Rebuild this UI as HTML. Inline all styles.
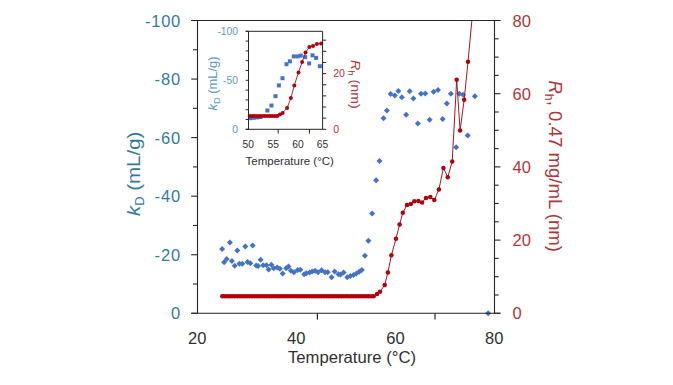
<!DOCTYPE html>
<html><head><meta charset="utf-8"><style>
html,body{margin:0;padding:0;background:#fff;width:673px;height:385px;overflow:hidden;position:relative;font-family:"Liberation Sans", sans-serif}
</style></head><body>
<svg width="673" height="385" viewBox="0 0 673 385" style="position:absolute;left:0;top:0">
<rect width="673" height="385" fill="#fff"/>
<defs><clipPath id="cm"><rect x="197.5" y="20.5" width="297.0" height="294.8"/></clipPath></defs>
<g fill="#4472C4"><path d="M222.1 246.0L225.1 249.0L222.1 252.0L219.1 249.0Z"/><path d="M229.9 239.4L232.9 242.4L229.9 245.4L226.9 242.4Z"/><path d="M237.3 247.6L240.3 250.6L237.3 253.6L234.3 250.6Z"/><path d="M245.3 243.4L248.3 246.4L245.3 249.4L242.3 246.4Z"/><path d="M252.7 242.4L255.7 245.4L252.7 248.4L249.7 245.4Z"/><path d="M224.1 259.3L227.1 262.3L224.1 265.3L221.1 262.3Z"/><path d="M226.7 256.0L229.7 259.0L226.7 262.0L223.7 259.0Z"/><path d="M231.9 258.0L234.9 261.0L231.9 264.0L228.9 261.0Z"/><path d="M234.7 262.8L237.7 265.8L234.7 268.8L231.7 265.8Z"/><path d="M239.4 260.8L242.4 263.8L239.4 266.8L236.4 263.8Z"/><path d="M242.3 260.8L245.3 263.8L242.3 266.8L239.3 263.8Z"/><path d="M247.5 259.0L250.5 262.0L247.5 265.0L244.5 262.0Z"/><path d="M250.3 260.3L253.3 263.3L250.3 266.3L247.3 263.3Z"/><path d="M256.2 262.6L259.2 265.6L256.2 268.6L253.2 265.6Z"/><path d="M258.1 263.0L261.1 266.0L258.1 269.0L255.1 266.0Z"/><path d="M260.6 256.7L263.6 259.7L260.6 262.7L257.6 259.7Z"/><path d="M263.2 262.2L266.2 265.2L263.2 268.2L260.2 265.2Z"/><path d="M266.5 262.2L269.5 265.2L266.5 268.2L263.5 265.2Z"/><path d="M268.6 266.5L271.6 269.5L268.6 272.5L265.6 269.5Z"/><path d="M271.4 261.8L274.4 264.8L271.4 267.8L268.4 264.8Z"/><path d="M273.7 265.3L276.7 268.3L273.7 271.3L270.7 268.3Z"/><path d="M277.2 264.5L280.2 267.5L277.2 270.5L274.2 267.5Z"/><path d="M279.9 265.7L282.9 268.7L279.9 271.7L276.9 268.7Z"/><path d="M282.7 270.4L285.7 273.4L282.7 276.4L279.7 273.4Z"/><path d="M286.2 265.3L289.2 268.3L286.2 271.3L283.2 268.3Z"/><path d="M288.5 263.4L291.5 266.4L288.5 269.4L285.5 266.4Z"/><path d="M290.9 267.7L293.9 270.7L290.9 273.7L287.9 270.7Z"/><path d="M294.0 269.2L297.0 272.2L294.0 275.2L291.0 272.2Z"/><path d="M297.7 267.1L300.7 270.1L297.7 273.1L294.7 270.1Z"/><path d="M300.3 266.8L303.3 269.8L300.3 272.8L297.3 269.8Z"/><path d="M304.2 271.2L307.2 274.2L304.2 277.2L301.2 274.2Z"/><path d="M306.3 270.3L309.3 273.3L306.3 276.3L303.3 273.3Z"/><path d="M309.5 269.5L312.5 272.5L309.5 275.5L306.5 272.5Z"/><path d="M312.1 268.6L315.1 271.6L312.1 274.6L309.1 271.6Z"/><path d="M315.1 267.7L318.1 270.7L315.1 273.7L312.1 270.7Z"/><path d="M318.0 269.3L321.0 272.3L318.0 275.3L315.0 272.3Z"/><path d="M321.6 267.3L324.6 270.3L321.6 273.3L318.6 270.3Z"/><path d="M325.1 269.3L328.1 272.3L325.1 275.3L322.1 272.3Z"/><path d="M327.7 269.3L330.7 272.3L327.7 275.3L324.7 272.3Z"/><path d="M331.6 274.2L334.6 277.2L331.6 280.2L328.6 277.2Z"/><path d="M334.6 268.6L337.6 271.6L334.6 274.6L331.6 271.6Z"/><path d="M338.5 271.2L341.5 274.2L338.5 277.2L335.5 274.2Z"/><path d="M340.5 271.4L343.5 274.4L340.5 277.4L337.5 274.4Z"/><path d="M343.6 269.6L346.6 272.6L343.6 275.6L340.6 272.6Z"/><path d="M347.3 274.2L350.3 277.2L347.3 280.2L344.3 277.2Z"/><path d="M350.4 273.0L353.4 276.0L350.4 279.0L347.4 276.0Z"/><path d="M353.5 272.0L356.5 275.0L353.5 278.0L350.5 275.0Z"/><path d="M356.4 270.4L359.4 273.4L356.4 276.4L353.4 273.4Z"/><path d="M359.2 268.8L362.2 271.8L359.2 274.8L356.2 271.8Z"/><path d="M361.8 267.0L364.8 270.0L361.8 273.0L358.8 270.0Z"/><path d="M364.9 252.7L367.9 255.7L364.9 258.7L361.9 255.7Z"/><path d="M368.4 237.8L371.4 240.8L368.4 243.8L365.4 240.8Z"/><path d="M372.1 210.6L375.1 213.6L372.1 216.6L369.1 213.6Z"/><path d="M376.1 177.3L379.1 180.3L376.1 183.3L373.1 180.3Z"/><path d="M379.5 157.9L382.5 160.9L379.5 163.9L376.5 160.9Z"/><path d="M383.5 115.2L386.5 118.2L383.5 121.2L380.5 118.2Z"/><path d="M386.9 107.6L389.9 110.6L386.9 113.6L383.9 110.6Z"/><path d="M390.6 91.0L393.6 94.0L390.6 97.0L387.6 94.0Z"/><path d="M394.8 92.4L397.8 95.4L394.8 98.4L391.8 95.4Z"/><path d="M398.4 87.9L401.4 90.9L398.4 93.9L395.4 90.9Z"/><path d="M401.9 94.3L404.9 97.3L401.9 100.3L398.9 97.3Z"/><path d="M406.2 111.7L409.2 114.7L406.2 117.7L403.2 114.7Z"/><path d="M409.7 88.2L412.7 91.2L409.7 94.2L406.7 91.2Z"/><path d="M413.4 95.4L416.4 98.4L413.4 101.4L410.4 98.4Z"/><path d="M417.9 120.4L420.9 123.4L417.9 126.4L414.9 123.4Z"/><path d="M421.0 90.8L424.0 93.8L421.0 96.8L418.0 93.8Z"/><path d="M425.3 90.4L428.3 93.4L425.3 96.4L422.3 93.4Z"/><path d="M429.6 116.7L432.6 119.7L429.6 122.7L426.6 119.7Z"/><path d="M433.6 88.7L436.6 91.7L433.6 94.7L430.6 91.7Z"/><path d="M438.0 87.0L441.0 90.0L438.0 93.0L435.0 90.0Z"/><path d="M442.7 116.1L445.7 119.1L442.7 122.1L439.7 119.1Z"/><path d="M446.8 100.6L449.8 103.6L446.8 106.6L443.8 103.6Z"/><path d="M450.9 90.7L453.9 93.7L450.9 96.7L447.9 93.7Z"/><path d="M459.3 90.7L462.3 93.7L459.3 96.7L456.3 93.7Z"/><path d="M463.1 91.8L466.1 94.8L463.1 97.8L460.1 94.8Z"/><path d="M456.2 144.2L459.2 147.2L456.2 150.2L453.2 147.2Z"/><path d="M467.7 132.6L470.7 135.6L467.7 138.6L464.7 135.6Z"/><path d="M474.9 93.3L477.9 96.3L474.9 99.3L471.9 96.3Z"/><path d="M488.1 310.2L491.1 313.2L488.1 316.2L485.1 313.2Z"/></g>
<g clip-path="url(#cm)"><path d="M222.3 296.3 L224.8 296.3 L227.3 296.3 L229.7 296.3 L232.2 296.3 L234.7 296.3 L237.2 296.3 L239.7 296.3 L242.1 296.3 L244.6 296.3 L247.1 296.3 L249.6 296.3 L252.1 296.3 L254.5 296.3 L257.0 296.3 L259.5 296.3 L262.0 296.3 L264.5 296.3 L266.9 296.3 L269.4 296.3 L271.9 296.3 L274.4 296.3 L276.9 296.3 L279.3 296.3 L281.8 296.3 L284.3 296.3 L286.8 296.3 L289.3 296.3 L291.7 296.3 L294.2 296.3 L296.7 296.3 L299.2 296.3 L301.7 296.3 L304.1 296.3 L306.6 296.3 L309.1 296.3 L311.6 296.3 L314.1 296.3 L316.5 296.3 L319.0 296.3 L321.5 296.3 L324.0 296.3 L326.5 296.3 L328.9 296.3 L331.4 296.3 L333.9 296.3 L336.4 296.3 L338.9 296.3 L341.3 296.3 L343.8 296.3 L346.3 296.3 L348.8 296.3 L351.3 296.3 L353.7 296.3 L356.2 296.3 L358.7 296.3 L361.2 296.3 L363.7 296.3 L366.1 296.3 L368.6 296.3 L371.1 296.3 L373.6 296.3 L377.1 294.0 L380.0 291.7 L384.7 285.0 L387.9 272.4 L391.4 255.2 L396.0 238.7 L399.6 224.5 L402.8 212.8 L407.0 205.0 L410.8 204.0 L414.3 201.2 L418.4 201.0 L422.1 202.6 L426.0 197.9 L430.3 196.9 L434.3 200.0 L438.9 189.6 L443.4 167.9 L447.8 177.2 L452.2 161.6 L456.7 79.8 L460.1 130.5 L464.2 99.7 L468.0 61.8 L472.2 17" fill="none" stroke="#A01A20" stroke-width="1.0"/></g>
<g fill="#B0000C"><circle cx="222.3" cy="296.3" r="2.25"/><circle cx="224.8" cy="296.3" r="2.25"/><circle cx="227.3" cy="296.3" r="2.25"/><circle cx="229.7" cy="296.3" r="2.25"/><circle cx="232.2" cy="296.3" r="2.25"/><circle cx="234.7" cy="296.3" r="2.25"/><circle cx="237.2" cy="296.3" r="2.25"/><circle cx="239.7" cy="296.3" r="2.25"/><circle cx="242.1" cy="296.3" r="2.25"/><circle cx="244.6" cy="296.3" r="2.25"/><circle cx="247.1" cy="296.3" r="2.25"/><circle cx="249.6" cy="296.3" r="2.25"/><circle cx="252.1" cy="296.3" r="2.25"/><circle cx="254.5" cy="296.3" r="2.25"/><circle cx="257.0" cy="296.3" r="2.25"/><circle cx="259.5" cy="296.3" r="2.25"/><circle cx="262.0" cy="296.3" r="2.25"/><circle cx="264.5" cy="296.3" r="2.25"/><circle cx="266.9" cy="296.3" r="2.25"/><circle cx="269.4" cy="296.3" r="2.25"/><circle cx="271.9" cy="296.3" r="2.25"/><circle cx="274.4" cy="296.3" r="2.25"/><circle cx="276.9" cy="296.3" r="2.25"/><circle cx="279.3" cy="296.3" r="2.25"/><circle cx="281.8" cy="296.3" r="2.25"/><circle cx="284.3" cy="296.3" r="2.25"/><circle cx="286.8" cy="296.3" r="2.25"/><circle cx="289.3" cy="296.3" r="2.25"/><circle cx="291.7" cy="296.3" r="2.25"/><circle cx="294.2" cy="296.3" r="2.25"/><circle cx="296.7" cy="296.3" r="2.25"/><circle cx="299.2" cy="296.3" r="2.25"/><circle cx="301.7" cy="296.3" r="2.25"/><circle cx="304.1" cy="296.3" r="2.25"/><circle cx="306.6" cy="296.3" r="2.25"/><circle cx="309.1" cy="296.3" r="2.25"/><circle cx="311.6" cy="296.3" r="2.25"/><circle cx="314.1" cy="296.3" r="2.25"/><circle cx="316.5" cy="296.3" r="2.25"/><circle cx="319.0" cy="296.3" r="2.25"/><circle cx="321.5" cy="296.3" r="2.25"/><circle cx="324.0" cy="296.3" r="2.25"/><circle cx="326.5" cy="296.3" r="2.25"/><circle cx="328.9" cy="296.3" r="2.25"/><circle cx="331.4" cy="296.3" r="2.25"/><circle cx="333.9" cy="296.3" r="2.25"/><circle cx="336.4" cy="296.3" r="2.25"/><circle cx="338.9" cy="296.3" r="2.25"/><circle cx="341.3" cy="296.3" r="2.25"/><circle cx="343.8" cy="296.3" r="2.25"/><circle cx="346.3" cy="296.3" r="2.25"/><circle cx="348.8" cy="296.3" r="2.25"/><circle cx="351.3" cy="296.3" r="2.25"/><circle cx="353.7" cy="296.3" r="2.25"/><circle cx="356.2" cy="296.3" r="2.25"/><circle cx="358.7" cy="296.3" r="2.25"/><circle cx="361.2" cy="296.3" r="2.25"/><circle cx="363.7" cy="296.3" r="2.25"/><circle cx="366.1" cy="296.3" r="2.25"/><circle cx="368.6" cy="296.3" r="2.25"/><circle cx="371.1" cy="296.3" r="2.25"/><circle cx="373.6" cy="296.3" r="2.25"/><circle cx="377.1" cy="294.0" r="2.25"/><circle cx="380.0" cy="291.7" r="2.25"/><circle cx="384.7" cy="285.0" r="2.25"/><circle cx="387.9" cy="272.4" r="2.25"/><circle cx="391.4" cy="255.2" r="2.25"/><circle cx="396.0" cy="238.7" r="2.25"/><circle cx="399.6" cy="224.5" r="2.25"/><circle cx="402.8" cy="212.8" r="2.25"/><circle cx="407.0" cy="205.0" r="2.25"/><circle cx="410.8" cy="204.0" r="2.25"/><circle cx="414.3" cy="201.2" r="2.25"/><circle cx="418.4" cy="201.0" r="2.25"/><circle cx="422.1" cy="202.6" r="2.25"/><circle cx="426.0" cy="197.9" r="2.25"/><circle cx="430.3" cy="196.9" r="2.25"/><circle cx="434.3" cy="200.0" r="2.25"/><circle cx="438.9" cy="189.6" r="2.25"/><circle cx="443.4" cy="167.9" r="2.25"/><circle cx="447.8" cy="177.2" r="2.25"/><circle cx="452.2" cy="161.6" r="2.25"/><circle cx="456.7" cy="79.8" r="2.25"/><circle cx="460.1" cy="130.5" r="2.25"/><circle cx="464.2" cy="99.7" r="2.25"/><circle cx="468.0" cy="61.8" r="2.25"/></g>
<line x1="197.5" y1="20.5" x2="197.5" y2="313.3" stroke="#262626" stroke-width="1.1"/>
<line x1="494.5" y1="20.5" x2="494.5" y2="313.3" stroke="#262626" stroke-width="1.1"/>
<line x1="191.2" y1="20.5" x2="500.5" y2="20.5" stroke="#262626" stroke-width="1.1"/>
<line x1="191.2" y1="313.3" x2="500.5" y2="313.3" stroke="#262626" stroke-width="1.1"/>
<line x1="191.2" y1="20.5" x2="197.5" y2="20.5" stroke="#262626" stroke-width="1.1"/>
<line x1="193.0" y1="49.78" x2="197.5" y2="49.78" stroke="#262626" stroke-width="1.1"/>
<line x1="191.2" y1="79.06" x2="197.5" y2="79.06" stroke="#262626" stroke-width="1.1"/>
<line x1="193.0" y1="108.34" x2="197.5" y2="108.34" stroke="#262626" stroke-width="1.1"/>
<line x1="191.2" y1="137.62" x2="197.5" y2="137.62" stroke="#262626" stroke-width="1.1"/>
<line x1="193.0" y1="166.9" x2="197.5" y2="166.9" stroke="#262626" stroke-width="1.1"/>
<line x1="191.2" y1="196.18" x2="197.5" y2="196.18" stroke="#262626" stroke-width="1.1"/>
<line x1="193.0" y1="225.45999999999998" x2="197.5" y2="225.45999999999998" stroke="#262626" stroke-width="1.1"/>
<line x1="191.2" y1="254.74" x2="197.5" y2="254.74" stroke="#262626" stroke-width="1.1"/>
<line x1="193.0" y1="284.02000000000004" x2="197.5" y2="284.02000000000004" stroke="#262626" stroke-width="1.1"/>
<line x1="191.2" y1="313.3" x2="197.5" y2="313.3" stroke="#262626" stroke-width="1.1"/>
<line x1="494.5" y1="20.5" x2="500.4" y2="20.5" stroke="#262626" stroke-width="1.1"/>
<line x1="494.5" y1="38.8" x2="498.7" y2="38.8" stroke="#262626" stroke-width="1.1"/>
<line x1="494.5" y1="57.1" x2="498.7" y2="57.1" stroke="#262626" stroke-width="1.1"/>
<line x1="494.5" y1="75.4" x2="498.7" y2="75.4" stroke="#262626" stroke-width="1.1"/>
<line x1="494.5" y1="93.7" x2="500.4" y2="93.7" stroke="#262626" stroke-width="1.1"/>
<line x1="494.5" y1="112.0" x2="498.7" y2="112.0" stroke="#262626" stroke-width="1.1"/>
<line x1="494.5" y1="130.3" x2="498.7" y2="130.3" stroke="#262626" stroke-width="1.1"/>
<line x1="494.5" y1="148.6" x2="498.7" y2="148.6" stroke="#262626" stroke-width="1.1"/>
<line x1="494.5" y1="166.9" x2="500.4" y2="166.9" stroke="#262626" stroke-width="1.1"/>
<line x1="494.5" y1="185.20000000000002" x2="498.7" y2="185.20000000000002" stroke="#262626" stroke-width="1.1"/>
<line x1="494.5" y1="203.5" x2="498.7" y2="203.5" stroke="#262626" stroke-width="1.1"/>
<line x1="494.5" y1="221.8" x2="498.7" y2="221.8" stroke="#262626" stroke-width="1.1"/>
<line x1="494.5" y1="240.10000000000002" x2="500.4" y2="240.10000000000002" stroke="#262626" stroke-width="1.1"/>
<line x1="494.5" y1="258.4" x2="498.7" y2="258.4" stroke="#262626" stroke-width="1.1"/>
<line x1="494.5" y1="276.7" x2="498.7" y2="276.7" stroke="#262626" stroke-width="1.1"/>
<line x1="494.5" y1="295.0" x2="498.7" y2="295.0" stroke="#262626" stroke-width="1.1"/>
<line x1="494.5" y1="313.3" x2="500.4" y2="313.3" stroke="#262626" stroke-width="1.1"/>
<line x1="317.4" y1="313.3" x2="317.4" y2="319.5" stroke="#262626" stroke-width="1.2"/>
<line x1="435.0" y1="313.3" x2="435.0" y2="319.5" stroke="#262626" stroke-width="1.2"/>
<text x="180.3" y="26.5" font-family='"Liberation Sans", sans-serif' font-size="16.5" fill="#35799F" text-anchor="end" textLength="35.3" lengthAdjust="spacing">-100</text>
<text x="180.3" y="85.1" font-family='"Liberation Sans", sans-serif' font-size="16.5" fill="#35799F" text-anchor="end" textLength="25.9" lengthAdjust="spacing">-80</text>
<text x="180.3" y="143.6" font-family='"Liberation Sans", sans-serif' font-size="16.5" fill="#35799F" text-anchor="end" textLength="25.9" lengthAdjust="spacing">-60</text>
<text x="180.3" y="202.2" font-family='"Liberation Sans", sans-serif' font-size="16.5" fill="#35799F" text-anchor="end" textLength="25.9" lengthAdjust="spacing">-40</text>
<text x="180.3" y="260.7" font-family='"Liberation Sans", sans-serif' font-size="16.5" fill="#35799F" text-anchor="end" textLength="25.9" lengthAdjust="spacing">-20</text>
<text x="180.3" y="319.3" font-family='"Liberation Sans", sans-serif' font-size="16.5" fill="#35799F" text-anchor="end">0</text>
<text x="512.5" y="26.5" font-family='"Liberation Sans", sans-serif' font-size="16.5" fill="#B0363A">80</text>
<text x="512.5" y="99.7" font-family='"Liberation Sans", sans-serif' font-size="16.5" fill="#B0363A">60</text>
<text x="512.5" y="172.9" font-family='"Liberation Sans", sans-serif' font-size="16.5" fill="#B0363A">40</text>
<text x="512.5" y="246.1" font-family='"Liberation Sans", sans-serif' font-size="16.5" fill="#B0363A">20</text>
<text x="512.5" y="319.3" font-family='"Liberation Sans", sans-serif' font-size="16.5" fill="#B0363A">0</text>
<text x="197.2" y="343.6" font-family='"Liberation Sans", sans-serif' font-size="16.5" fill="#303030" text-anchor="middle">20</text>
<text x="296.2" y="343.6" font-family='"Liberation Sans", sans-serif' font-size="16.5" fill="#303030" text-anchor="middle">40</text>
<text x="395.4" y="343.6" font-family='"Liberation Sans", sans-serif' font-size="16.5" fill="#303030" text-anchor="middle">60</text>
<text x="494.2" y="343.6" font-family='"Liberation Sans", sans-serif' font-size="16.5" fill="#303030" text-anchor="middle">80</text>
<text x="288.0" y="363.4" font-family='"Liberation Sans", sans-serif' font-size="16.5" fill="#303030" textLength="128" lengthAdjust="spacingAndGlyphs">Temperature (°C)</text>
<g transform="translate(140.3,216.0) rotate(-90)"><text x="0" y="0" font-family='"Liberation Sans", sans-serif' font-size="19" fill="#35799F" textLength="84.4" lengthAdjust="spacingAndGlyphs"><tspan font-style="italic">k</tspan><tspan font-size="12" dy="4">D</tspan><tspan dy="-4"> (mL/g)</tspan></text></g>
<g transform="translate(548.5,80.4) rotate(90)"><text x="0" y="0" font-family='"Liberation Sans", sans-serif' font-size="18" fill="#B0363A" textLength="171.5" lengthAdjust="spacingAndGlyphs"><tspan font-style="italic">R</tspan><tspan font-size="12" dy="4">h</tspan><tspan dy="-4">, 0.47 mg/mL (nm)</tspan></text></g>
<rect x="248.5" y="31.3" width="74.10000000000002" height="98.00000000000001" fill="#fff"/>
<defs><clipPath id="ci"><rect x="248.5" y="31.3" width="74.10000000000002" height="98.00000000000001"/></clipPath></defs>
<g fill="#4472C4"><rect x="248.0" y="116.2" width="4" height="4"/><rect x="251.5" y="115.8" width="4" height="4"/><rect x="255.0" y="115.4" width="4" height="4"/><rect x="258.5" y="115.0" width="4" height="4"/><rect x="265.4" y="108.5" width="4" height="4"/><rect x="269.5" y="103.5" width="4" height="4"/><rect x="273.5" y="94.2" width="4" height="4"/><rect x="276.9" y="83.4" width="4" height="4"/><rect x="280.5" y="76.2" width="4" height="4"/><rect x="284.5" y="62.2" width="4" height="4"/><rect x="287.9" y="59.3" width="4" height="4"/><rect x="291.8" y="54.4" width="4" height="4"/><rect x="295.7" y="54.4" width="4" height="4"/><rect x="298.8" y="53.6" width="4" height="4"/><rect x="303.2" y="55.1" width="4" height="4"/><rect x="307.1" y="61.4" width="4" height="4"/><rect x="310.5" y="53.3" width="4" height="4"/><rect x="314.1" y="55.9" width="4" height="4"/><rect x="317.9" y="64.2" width="4" height="4"/></g>
<path d="M250.0 116.0 L252.5 116.0 L254.9 116.0 L257.4 116.0 L259.9 116.0 L262.4 116.0 L264.8 116.0 L267.3 116.0 L269.8 116.0 L272.2 116.0 L274.7 116.0 L277.2 116.0 L279.9 114.6 L282.6 112.9 L287.1 108.0 L290.9 98.0 L294.3 85.4 L298.5 72.4 L302.1 62.1 L305.5 52.5 L309.4 47.0 L313.0 45.9 L316.9 43.9 L321.1 43.4" fill="none" stroke="#A01A20" stroke-width="0.9"/>
<g fill="#B0000C"><circle cx="250.0" cy="116.0" r="2.0"/><circle cx="252.5" cy="116.0" r="2.0"/><circle cx="254.9" cy="116.0" r="2.0"/><circle cx="257.4" cy="116.0" r="2.0"/><circle cx="259.9" cy="116.0" r="2.0"/><circle cx="262.4" cy="116.0" r="2.0"/><circle cx="264.8" cy="116.0" r="2.0"/><circle cx="267.3" cy="116.0" r="2.0"/><circle cx="269.8" cy="116.0" r="2.0"/><circle cx="272.2" cy="116.0" r="2.0"/><circle cx="274.7" cy="116.0" r="2.0"/><circle cx="277.2" cy="116.0" r="2.0"/><circle cx="279.9" cy="114.6" r="2.0"/><circle cx="282.6" cy="112.9" r="2.0"/><circle cx="287.1" cy="108.0" r="2.0"/><circle cx="290.9" cy="98.0" r="2.0"/><circle cx="294.3" cy="85.4" r="2.0"/><circle cx="298.5" cy="72.4" r="2.0"/><circle cx="302.1" cy="62.1" r="2.0"/><circle cx="305.5" cy="52.5" r="2.0"/><circle cx="309.4" cy="47.0" r="2.0"/><circle cx="313.0" cy="45.9" r="2.0"/><circle cx="316.9" cy="43.9" r="2.0"/><circle cx="321.1" cy="43.4" r="2.0"/></g>
<line x1="248.5" y1="31.3" x2="248.5" y2="129.3" stroke="#262626" stroke-width="1.0"/>
<line x1="322.6" y1="31.3" x2="322.6" y2="129.3" stroke="#262626" stroke-width="1.0"/>
<line x1="245.7" y1="129.3" x2="322.6" y2="129.3" stroke="#262626" stroke-width="1.0"/>
<line x1="245.7" y1="31.3" x2="322.6" y2="31.3" stroke="#262626" stroke-width="1.0"/>
<line x1="245.7" y1="31.3" x2="248.5" y2="31.3" stroke="#262626" stroke-width="1.0"/>
<line x1="245.7" y1="41.1" x2="248.5" y2="41.1" stroke="#262626" stroke-width="1.0"/>
<line x1="245.7" y1="50.900000000000006" x2="248.5" y2="50.900000000000006" stroke="#262626" stroke-width="1.0"/>
<line x1="245.7" y1="60.7" x2="248.5" y2="60.7" stroke="#262626" stroke-width="1.0"/>
<line x1="245.7" y1="70.5" x2="248.5" y2="70.5" stroke="#262626" stroke-width="1.0"/>
<line x1="245.7" y1="80.30000000000001" x2="248.5" y2="80.30000000000001" stroke="#262626" stroke-width="1.0"/>
<line x1="245.7" y1="90.10000000000001" x2="248.5" y2="90.10000000000001" stroke="#262626" stroke-width="1.0"/>
<line x1="245.7" y1="99.9" x2="248.5" y2="99.9" stroke="#262626" stroke-width="1.0"/>
<line x1="245.7" y1="109.7" x2="248.5" y2="109.7" stroke="#262626" stroke-width="1.0"/>
<line x1="245.7" y1="119.50000000000001" x2="248.5" y2="119.50000000000001" stroke="#262626" stroke-width="1.0"/>
<line x1="245.7" y1="129.3" x2="248.5" y2="129.3" stroke="#262626" stroke-width="1.0"/>
<line x1="322.6" y1="129.3" x2="326.20000000000005" y2="129.3" stroke="#262626" stroke-width="1.0"/>
<line x1="322.6" y1="118.16000000000001" x2="326.20000000000005" y2="118.16000000000001" stroke="#262626" stroke-width="1.0"/>
<line x1="322.6" y1="107.02000000000001" x2="326.20000000000005" y2="107.02000000000001" stroke="#262626" stroke-width="1.0"/>
<line x1="322.6" y1="95.88000000000001" x2="326.20000000000005" y2="95.88000000000001" stroke="#262626" stroke-width="1.0"/>
<line x1="322.6" y1="84.74000000000001" x2="326.20000000000005" y2="84.74000000000001" stroke="#262626" stroke-width="1.0"/>
<line x1="322.6" y1="73.60000000000001" x2="326.20000000000005" y2="73.60000000000001" stroke="#262626" stroke-width="1.0"/>
<line x1="322.6" y1="62.46000000000001" x2="326.20000000000005" y2="62.46000000000001" stroke="#262626" stroke-width="1.0"/>
<line x1="322.6" y1="51.32000000000001" x2="326.20000000000005" y2="51.32000000000001" stroke="#262626" stroke-width="1.0"/>
<line x1="322.6" y1="40.18000000000001" x2="326.20000000000005" y2="40.18000000000001" stroke="#262626" stroke-width="1.0"/>
<line x1="278.2" y1="129.3" x2="278.2" y2="133.6" stroke="#262626" stroke-width="1.0"/>
<line x1="309.4" y1="129.3" x2="309.4" y2="133.6" stroke="#262626" stroke-width="1.0"/>
<text x="238" y="35.1" font-family='"Liberation Sans", sans-serif' font-size="10.3" fill="#5A9AC4" text-anchor="end">-100</text>
<text x="238" y="84.1" font-family='"Liberation Sans", sans-serif' font-size="10.3" fill="#5A9AC4" text-anchor="end">-50</text>
<text x="238" y="133.1" font-family='"Liberation Sans", sans-serif' font-size="10.3" fill="#5A9AC4" text-anchor="end">0</text>
<text x="333.2" y="77.4" font-family='"Liberation Sans", sans-serif' font-size="10.5" fill="#B0363A">20</text>
<text x="333.2" y="133.1" font-family='"Liberation Sans", sans-serif' font-size="10.5" fill="#B0363A">0</text>
<text x="248.3" y="148.1" font-family='"Liberation Sans", sans-serif' font-size="10.3" fill="#303030" text-anchor="middle">50</text>
<text x="273.2" y="148.1" font-family='"Liberation Sans", sans-serif' font-size="10.3" fill="#303030" text-anchor="middle">55</text>
<text x="298.0" y="148.1" font-family='"Liberation Sans", sans-serif' font-size="10.3" fill="#303030" text-anchor="middle">60</text>
<text x="322.5" y="148.1" font-family='"Liberation Sans", sans-serif' font-size="10.3" fill="#303030" text-anchor="middle">65</text>
<text x="245.6" y="165.1" font-family='"Liberation Sans", sans-serif' font-size="11.2" fill="#303030" textLength="88.3" lengthAdjust="spacingAndGlyphs">Temperature (°C)</text>
<g transform="translate(217.0,110.5) rotate(-90)"><text x="0" y="0" font-family='"Liberation Sans", sans-serif' font-size="13.5" fill="#5A9AC4" textLength="54" lengthAdjust="spacingAndGlyphs"><tspan font-style="italic">k</tspan><tspan font-size="9.8" dy="3">D</tspan><tspan dy="-3"> (mL/g)</tspan></text></g>
<g transform="translate(351,60) rotate(90)"><text x="0" y="0" font-family='"Liberation Sans", sans-serif' font-size="13" fill="#B0363A" textLength="48.7" lengthAdjust="spacingAndGlyphs"><tspan font-style="italic">R</tspan><tspan font-size="9" dy="3">h</tspan><tspan dy="-3"> (nm)</tspan></text></g>
</svg>
</body></html>
